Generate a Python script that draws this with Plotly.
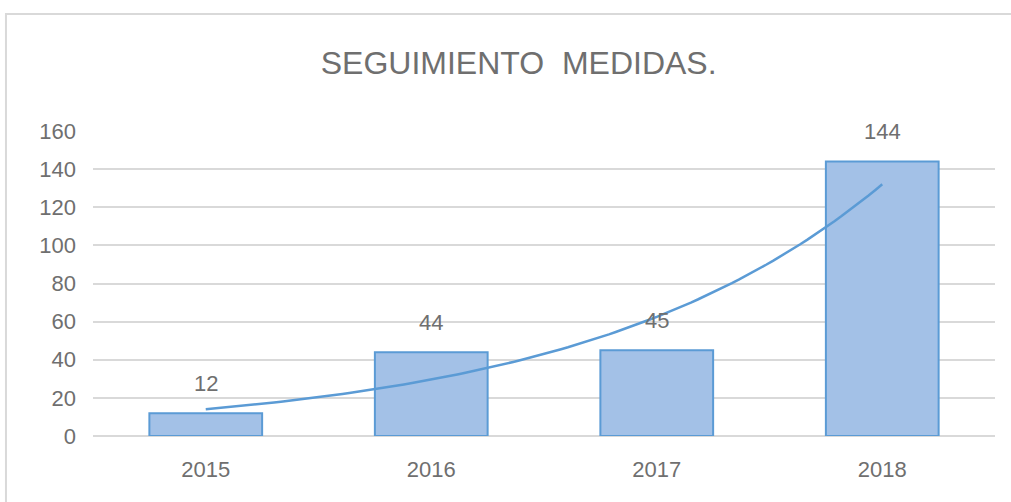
import numpy as np
import plotly.graph_objects as go

years = [2015, 2016, 2017, 2018]
values = [12, 44, 45, 144]
year_labels = ["2015", "2016", "2017", "2018"]
y_ticks = [0, 20, 40, 60, 80, 100, 120, 140, 160]

FONT = "Liberation Sans, Arial, sans-serif"
GRAY = "#6f6f6f"
BLUE = "#5b9bd5"

# exponential trendline fitted to the data (like Excel's exponential trendline)
xi = np.arange(len(values))
b, a = np.polyfit(xi, np.log(values), 1)
xs = np.linspace(0, len(values) - 1, 100)
trend_x = years[0] + xs
trend_y = np.exp(a + b * xs)

fig = go.Figure()
fig.add_trace(go.Bar(
    x=years, y=values, width=0.5,
    marker=dict(color="#a3c1e7", line=dict(color=BLUE, width=2)),
    hoverinfo="x+y", showlegend=False,
))
fig.add_trace(go.Scatter(
    x=trend_x, y=trend_y, mode="lines",
    line=dict(color=BLUE, width=2.5), showlegend=False, hoverinfo="skip",
))

for xv, v in zip(years, values):
    fig.add_annotation(x=xv, y=v, text=str(v), showarrow=False,
                       yanchor="middle", yshift=30,
                       font=dict(family=FONT, size=22, color=GRAY))

# chart outer border
fig.add_shape(type="rect", xref="paper", yref="paper",
              x0=-0.0965, x1=1.1, y0=-0.4, y1=1.3836,
              line=dict(color="#d9d9d9", width=2), layer="below")

fig.update_layout(
    width=1011, height=502,
    margin=dict(l=93, r=16, t=131, b=66),
    paper_bgcolor="white", plot_bgcolor="white",
    title=dict(text="SEGUIMIENTO  MEDIDAS.", x=0.513, xanchor="center",
               y=1 - 63 / 502, yanchor="middle", yref="container",
               font=dict(family=FONT, size=32, color=GRAY)),
    font=dict(family=FONT, size=22, color=GRAY),
    bargap=0.5,
)
fig.update_xaxes(range=[2014.5, 2018.5], tickvals=years, ticktext=year_labels,
                 showgrid=False, zeroline=False, showline=False,
                 ticks="", ticklabelstandoff=18,
                 tickfont=dict(family=FONT, size=22, color=GRAY))
fig.update_yaxes(range=[0, 160], tickvals=y_ticks, showgrid=True,
                 gridcolor="#d9d9d9", gridwidth=2, zeroline=True,
                 zerolinecolor="#d9d9d9", zerolinewidth=2,
                 showline=False, ticks="", ticklabelstandoff=16,
                 tickfont=dict(family=FONT, size=22, color=GRAY))

fig.write_html("out.html", config={"displayModeBar": False},
               post_script="document.body.style.margin='0';")
